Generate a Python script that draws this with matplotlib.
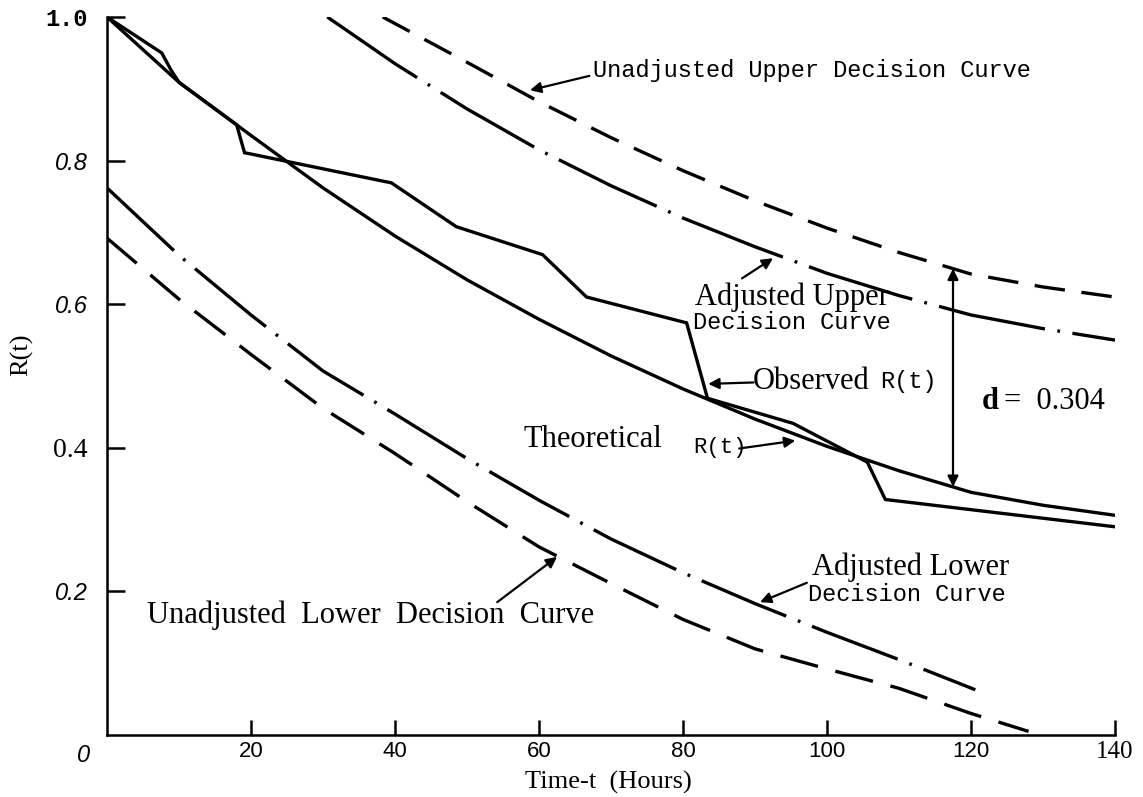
import numpy as np
import matplotlib
matplotlib.use("Agg")
import matplotlib.pyplot as plt

plt.rcParams['lines.scale_dashes'] = False

# ---------------- data ----------------
t_theo = [0, 10, 20, 30, 40, 50, 60, 70, 80, 90, 100, 110, 120, 130, 140]
R_theo = [1.0, 0.909, 0.835, 0.762, 0.695, 0.634, 0.579, 0.528, 0.482, 0.440,
          0.402, 0.368, 0.338, 0.320, 0.306]

t_obs = [0, 7.6, 8.9, 10, 18, 19.1, 39.5, 48.5, 60.5, 66.6, 80.5, 83.4, 95.3,
         105.6, 108.1, 140]
R_obs = [1.0, 0.95, 0.926, 0.909, 0.85, 0.811, 0.769, 0.708, 0.669, 0.610,
         0.574, 0.469, 0.434, 0.380, 0.328, 0.290]

t_up_unadj = [38.3, 50, 60, 70, 80, 90, 100, 110, 120, 130, 140]
R_up_unadj = [1.0, 0.937, 0.882, 0.832, 0.786, 0.744, 0.706, 0.672, 0.642, 0.624, 0.610]

t_up_adj = [30.6, 40, 50, 60, 70, 80, 90, 100, 110, 120, 130, 140]
R_up_adj = [1.0, 0.935, 0.872, 0.815, 0.765, 0.720, 0.680, 0.643, 0.612, 0.585, 0.566, 0.550]

t_lo_adj = [0, 10, 20, 30, 40, 50, 60, 70, 80, 90, 100, 110, 120.6]
R_lo_adj = [0.762, 0.668, 0.585, 0.507, 0.447, 0.385, 0.327, 0.273, 0.226, 0.183,
            0.143, 0.105, 0.063]

t_lo_unadj = [0, 10, 20, 30, 40, 50, 60, 70, 80, 90, 100, 110, 120, 128]
R_lo_unadj = [0.692, 0.607, 0.530, 0.455, 0.392, 0.325, 0.262, 0.211, 0.161, 0.120,
              0.092, 0.065, 0.030, 0.005]

xtick_vals = [20, 40, 60, 80, 100, 120, 140]
xtick_labels = ["20", "40", "60", "80", "100", "120", "140"]
ytick_vals = [0.2, 0.4, 0.6, 0.8, 1.0]
ytick_labels = ["0.2", "0.4", "0.6", "0.8", "1.0"]
d_time = 117.5
d_value = "0.304"

# ---------------- fonts ----------------
MONO = "Liberation Mono"
SERIF = "Liberation Serif"
SANS = "Liberation Sans"
S_SERIF = 22
S_MONO = 17

W, H = 1143, 797
fig = plt.figure(figsize=(W / 100, H / 100), dpi=100)
ax = fig.add_axes([107 / W, 62 / H, (1115 - 107) / W, 718 / H])
ax.set_xlim(0, 140)
ax.set_ylim(0, 1.0)

lw = 2.4
ax.plot(t_theo, R_theo, color="black", lw=lw)
ax.plot(t_obs, R_obs, color="black", lw=lw, solid_joinstyle="miter")
ax.plot(t_up_unadj, R_up_unadj, color="black", lw=lw, dashes=(22, 12))
ax.plot(t_up_adj, R_up_adj, color="black", lw=lw, dashes=(78, 9, 2, 9))
ax.plot(t_lo_adj, R_lo_adj, color="black", lw=lw, dashes=(66, 9, 2, 9))
ax.plot(t_lo_unadj, R_lo_unadj, color="black", lw=lw, dashes=(28, 13))

# spines / ticks
for s in ["top", "right"]:
    ax.spines[s].set_visible(False)
for s in ["left", "bottom"]:
    ax.spines[s].set_linewidth(1.8)

ax.set_xticks(xtick_vals)
ax.set_xticklabels(xtick_labels)
ax.set_yticks(ytick_vals)
ax.set_yticklabels(ytick_labels)
ax.tick_params(axis="x", direction="in", length=11, width=1.8, pad=4)
ax.tick_params(axis="y", direction="in", length=13, width=1.8, pad=14)

for lab in ax.get_xticklabels():
    if lab.get_text() == "140":
        lab.set_fontfamily(SERIF)
        lab.set_fontsize(18)
    else:
        lab.set_fontfamily(SANS)
        lab.set_fontsize(16)
for lab in ax.get_yticklabels():
    txt = lab.get_text()
    if txt == "1.0":
        lab.set_fontfamily(MONO)
        lab.set_fontweight("bold")
        lab.set_fontsize(17)
    elif txt == "0.4":
        lab.set_fontfamily(SERIF)
        lab.set_fontsize(20)
    else:
        lab.set_fontfamily(SANS)
        lab.set_fontstyle("italic")
        lab.set_fontsize(17)

fig.text(84 / W, 1 - 755 / H, "0", fontfamily=SANS, fontstyle="italic",
         fontsize=17, ha="center", va="center")
fig.text(608 / W, 1 - 794 / H, "Time-t  (Hours)", fontfamily=SERIF,
         fontsize=19, ha="center", va="bottom")
fig.text(22 / W, 1 - 355 / H, "R(t)", fontfamily=SERIF, fontsize=19,
         rotation=90, ha="center", va="center")

arrow = dict(arrowstyle="-|>", color="black", lw=1.6, mutation_scale=16,
             shrinkA=0, shrinkB=0)

def note(xy, xytext):
    ax.annotate("", xy=xy, xytext=xytext, arrowprops=arrow)

# Unadjusted upper
ax.text(67.5, 0.926, "Unadjusted Upper Decision Curve", fontfamily=MONO,
        fontsize=S_MONO, ha="left", va="center")
note((58.75, 0.898), (67.0, 0.918))

# Adjusted upper
ax.text(81.7, 0.610, "Adjusted Upper", fontfamily=SERIF, fontsize=S_SERIF,
        ha="left", va="center")
ax.text(81.4, 0.575, "Decision Curve", fontfamily=MONO, fontsize=S_MONO,
        ha="left", va="center")
note((92.5, 0.664), (88.2, 0.636))

# Observed
ax.text(89.7, 0.492, "Observed", fontfamily=SERIF, fontsize=S_SERIF,
        ha="left", va="center")
ax.text(107.4, 0.492, "R(t)", fontfamily=MONO, fontsize=S_MONO,
        ha="left", va="center")
note((83.5, 0.489), (89.8, 0.491))

# d arrow
r_lo = np.interp(d_time, t_theo, R_theo)
r_hi = np.interp(d_time, t_up_unadj, R_up_unadj)
ax.annotate("", xy=(d_time, r_hi), xytext=(d_time, r_lo),
            arrowprops=dict(arrowstyle="<|-|>", color="black", lw=1.6,
                            mutation_scale=16, shrinkA=0, shrinkB=0))
ax.text(121.5, 0.464, "d", fontfamily=SERIF, fontweight="bold",
        fontsize=S_SERIF, ha="left", va="center")
ax.text(124.6, 0.464, "=  " + d_value, fontfamily=SERIF, fontsize=S_SERIF,
        ha="left", va="center")

# Theoretical
ax.text(57.8, 0.411, "Theoretical", fontfamily=SERIF, fontsize=S_SERIF,
        ha="left", va="center")
ax.text(81.4, 0.400, "R(t)", fontfamily=MONO, fontsize=16,
        ha="left", va="center")
note((95.6, 0.410), (87.8, 0.399))

# Unadjusted lower
ax.text(5.6, 0.167, "Unadjusted  Lower  Decision  Curve", fontfamily=SERIF,
        fontsize=S_SERIF, ha="left", va="center")
note((62.5, 0.248), (54.2, 0.185))

# Adjusted lower
ax.text(97.9, 0.233, "Adjusted Lower", fontfamily=SERIF, fontsize=S_SERIF,
        ha="left", va="center")
ax.text(97.4, 0.195, "Decision Curve", fontfamily=MONO, fontsize=S_MONO,
        ha="left", va="center")
note((90.7, 0.185), (97.2, 0.212))

fig.savefig("out.png", dpi=100)
